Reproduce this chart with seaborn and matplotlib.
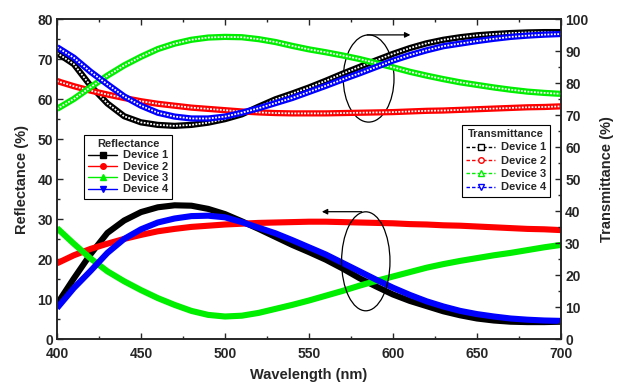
import numpy as np
import pandas as pd
import matplotlib
matplotlib.use("Agg")
import matplotlib.pyplot as plt
import seaborn as sns
from matplotlib.lines import Line2D
from matplotlib.patches import Ellipse
from matplotlib.ticker import MultipleLocator

sns.set_style("ticks")
plt.rcParams['font.family'] = ['Liberation Sans', 'DejaVu Sans']
plt.rcParams['font.weight'] = 'bold'

wavelength = list(range(400, 701, 10))

# Reflectance (%) - left axis
refl_dev1 = [8.8, 15.2, 21.3, 26.6, 29.7, 31.8, 33.0, 33.5, 33.4, 32.6, 31.3, 29.5, 27.6, 25.6, 23.6, 21.8,
             19.9, 17.7, 15.3, 13.2, 11.2, 9.6, 8.3, 7.0, 6.0, 5.2, 4.7, 4.4, 4.3, 4.3, 4.4]
refl_dev2 = [19.0, 21.0, 22.6, 23.9, 25.1, 26.1, 27.0, 27.6, 28.1, 28.4, 28.7, 28.9, 29.1, 29.2, 29.3, 29.4,
             29.4, 29.3, 29.2, 29.1, 29.0, 28.8, 28.7, 28.5, 28.4, 28.2, 28.0, 27.8, 27.6, 27.5, 27.3]
refl_dev3 = [27.8, 23.9, 20.2, 17.0, 14.5, 12.3, 10.3, 8.6, 7.1, 6.1, 5.7, 5.9, 6.6, 7.6, 8.6, 9.7,
             10.9, 12.1, 13.4, 14.6, 15.7, 16.8, 17.9, 18.8, 19.6, 20.3, 21.0, 21.6, 22.3, 23.0, 23.6]
refl_dev4 = [7.8, 12.8, 17.1, 21.6, 25.1, 27.5, 29.2, 30.2, 30.8, 30.9, 30.5, 29.3, 27.9, 26.5, 24.8, 23.0,
             21.2, 19.1, 17.0, 14.9, 12.9, 11.1, 9.5, 8.2, 7.1, 6.3, 5.7, 5.2, 4.9, 4.7, 4.6]

# Transmittance (%) - right axis
trans_dev1 = [89.5, 86.0, 79.2, 73.7, 69.7, 67.8, 67.0, 66.7, 67.0, 67.7, 68.8, 70.3, 72.7, 75.0, 76.8, 78.7,
              80.8, 83.0, 85.1, 87.2, 89.2, 91.0, 92.5, 93.6, 94.4, 95.0, 95.4, 95.7, 95.9, 96.0, 96.0]
trans_dev2 = [80.7, 79.1, 77.7, 76.5, 75.4, 74.4, 73.6, 73.0, 72.4, 72.0, 71.6, 71.2, 70.9, 70.7, 70.6, 70.6,
              70.6, 70.7, 70.8, 70.9, 71.0, 71.2, 71.4, 71.5, 71.7, 71.9, 72.1, 72.3, 72.5, 72.6, 72.8]
trans_dev3 = [72.0, 75.1, 78.8, 82.4, 85.6, 88.3, 90.7, 92.4, 93.6, 94.3, 94.5, 94.4, 93.8, 92.9, 91.7, 90.6,
              89.7, 88.7, 87.6, 86.3, 85.0, 83.6, 82.4, 81.3, 80.3, 79.5, 78.7, 78.0, 77.4, 77.0, 76.7]
trans_dev4 = [91.3, 88.0, 83.6, 79.7, 75.9, 73.0, 70.8, 69.6, 69.0, 69.0, 69.6, 70.8, 72.2, 73.8, 75.4, 77.3,
              79.2, 81.2, 83.1, 85.1, 87.1, 88.8, 90.3, 91.6, 92.4, 93.2, 93.9, 94.5, 94.9, 95.2, 95.4]

devices = ["Device 1", "Device 2", "Device 3", "Device 4"]
colors = ["#000000", "#FF0000", "#00EE00", "#0000FF"]
refl_markers = ["s", "o", "^", "v"]

refl = [refl_dev1, refl_dev2, refl_dev3, refl_dev4]
trans = [trans_dev1, trans_dev2, trans_dev3, trans_dev4]

fig = plt.figure(figsize=(6.18, 3.83), dpi=100)
ax = fig.add_axes([57/618, (383-339.3)/383, 504/618, 320/383])
ax2 = ax.twinx()

for name, vals, c in zip(devices, refl, colors):
    df = pd.DataFrame({"Wavelength": wavelength, "Value": vals})
    sns.lineplot(data=df, x="Wavelength", y="Value", ax=ax, color=c, lw=4.4,
                 solid_capstyle='butt', legend=False)

for name, vals, c in zip(devices, trans, colors):
    df = pd.DataFrame({"Wavelength": wavelength, "Value": vals})
    sns.lineplot(data=df, x="Wavelength", y="Value", ax=ax2, color=c, lw=4.5,
                 solid_capstyle='butt', legend=False)
    sns.lineplot(data=df, x="Wavelength", y="Value", ax=ax2, color="white", lw=1.3,
                 linestyle=(0, (1.0, 0.8)), legend=False)

ax.set_xlim(400, 700)
ax.set_ylim(0, 80)
ax2.set_ylim(0, 100)

ax.xaxis.set_major_locator(MultipleLocator(50))
ax.xaxis.set_minor_locator(MultipleLocator(25))
ax.yaxis.set_major_locator(MultipleLocator(10))
ax.yaxis.set_minor_locator(MultipleLocator(5))
ax2.yaxis.set_major_locator(MultipleLocator(10))
ax2.yaxis.set_minor_locator(MultipleLocator(5))

ax.tick_params(axis='both', which='major', direction='in', length=4.5, width=1, labelsize=10,
               top=True, right=False)
ax.tick_params(axis='y', which='major', pad=3)
ax.tick_params(axis='x', which='major', pad=5.5)
ax.tick_params(axis='both', which='minor', direction='in', length=2.5, width=1, top=True, right=False)
ax2.tick_params(axis='y', which='major', direction='in', length=4.5, width=1, labelsize=10, pad=3)
ax2.tick_params(axis='y', which='minor', direction='in', length=2.5, width=1)

for a in (ax, ax2):
    for s in a.spines.values():
        s.set_linewidth(1.2)
        s.set_visible(True)
    for lab in a.get_xticklabels() + a.get_yticklabels():
        lab.set_fontweight('bold')

ax.set_xlabel("Wavelength (nm)", fontsize=10.5, fontweight='bold', labelpad=5)
ax.set_ylabel("Reflectance (%)", fontsize=10.5, fontweight='bold', labelpad=6)
ax2.set_ylabel("Transmittance (%)", fontsize=10.5, fontweight='bold', labelpad=8)

# annotations: ellipses and arrows
ax.add_patch(Ellipse((585.5, 65.2), 30.2, 21.8, fill=False, ec='black', lw=0.9, zorder=5))
ax.annotate("", xy=(612, 76.1), xytext=(583, 76.1),
            arrowprops=dict(arrowstyle='-|>', color='black', lw=0.9, mutation_scale=8))
ax.add_patch(Ellipse((583.8, 19.5), 28.8, 24.75, fill=False, ec='black', lw=0.9, zorder=5))
ax.annotate("", xy=(556, 31.9), xytext=(583, 31.9),
            arrowprops=dict(arrowstyle='-|>', color='black', lw=0.9, mutation_scale=8))

# legends
refl_handles = [Line2D([], [], color=c, marker=m, lw=1.0, markersize=4, markerfacecolor=c, markeredgecolor=c)
                for c, m in zip(colors, refl_markers)]
trans_handles = [Line2D([], [], color=c, marker=m, lw=1.0, ls=(0, (2.5, 1.5)), markersize=4,
                        markerfacecolor='white', markeredgecolor=c)
                 for c, m in zip(colors, refl_markers)]

leg_kw = dict(fontsize=8, title_fontsize=8, fancybox=False, framealpha=1, edgecolor='black',
              handlelength=2.6, handletextpad=0.5, labelspacing=0.12, borderpad=0.4)
leg1 = ax2.legend(refl_handles, devices, title="Reflectance", loc='upper left',
                  bbox_to_anchor=(0.042, 0.657), **leg_kw)
leg1.get_title().set_fontweight('bold')
leg1.get_frame().set_linewidth(0.8)
for t in leg1.get_texts():
    t.set_fontweight('bold')
ax2.add_artist(leg1)
leg2 = ax2.legend(trans_handles, devices, title="Transmittance", loc='upper right',
                  bbox_to_anchor=(0.99, 0.688), **dict(leg_kw, labelspacing=0.3))
leg2.get_title().set_fontweight('bold')
leg2.get_frame().set_linewidth(0.8)
for t in leg2.get_texts():
    t.set_fontweight('bold')

fig.savefig("out.png", dpi=100)
